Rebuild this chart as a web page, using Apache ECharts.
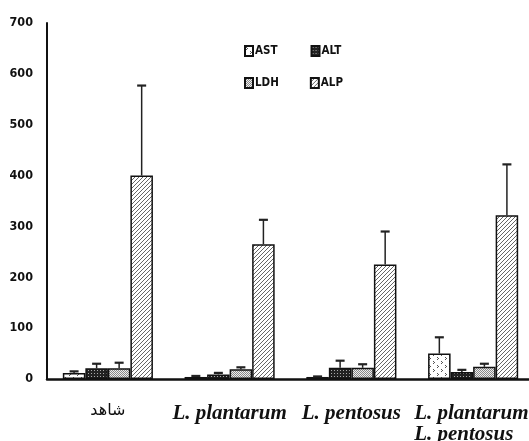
<!DOCTYPE html>
<html><head><meta charset="utf-8">
<script src="https://cdn.jsdelivr.net/npm/echarts@6/dist/echarts.min.js"></script>
<style>html,body{margin:0;padding:0;background:#fff}#c{width:529px;height:441px}</style>
</head><body><div id="c"></div>
<script>
const categories = ['شاهد', 'L. plantarum', 'L. pentosus', 'L. plantarum+\nL. pentosus'];
const seriesNames = ['AST', 'ALT', 'LDH', 'ALP'];
const AST = [12, 4, 4, 50];
const AST_err = [3, 2, 1, 32];
const ALT = [21, 9, 22, 14];
const ALT_err = [9, 3, 14, 4];
const LDH = [21, 19, 22, 24];
const LDH_err = [11, 4, 7, 6];
const ALP = [400, 265, 225, 322];
const ALP_err = [177, 48, 65, 100];
const yTicks = [0, 100, 200, 300, 400, 500, 600, 700];

function makePattern(kind) {
  const c = document.createElement('canvas');
  const ctx = c.getContext('2d');
  if (kind === 'AST') {
    c.width = 8; c.height = 8;
    ctx.fillStyle = '#fff'; ctx.fillRect(0, 0, 8, 8);
    ctx.fillStyle = '#555';
    ctx.fillRect(1, 1, 1, 1); ctx.fillRect(2, 2, 1, 1); ctx.fillRect(1, 3, 1, 1);
    ctx.fillRect(5, 5, 1, 1); ctx.fillRect(6, 6, 1, 1); ctx.fillRect(5, 7, 1, 1);
  } else if (kind === 'ALT') {
    c.width = 3; c.height = 3;
    ctx.fillStyle = '#222'; ctx.fillRect(0, 0, 3, 3);
    ctx.fillStyle = '#aaa'; ctx.fillRect(1, 1, 1, 1);
  } else if (kind === 'LDH') {
    c.width = 2; c.height = 2;
    ctx.fillStyle = '#eee'; ctx.fillRect(0, 0, 2, 2);
    ctx.fillStyle = '#888'; ctx.fillRect(0, 0, 1, 1); ctx.fillRect(1, 1, 1, 1);
  } else {
    c.width = 4; c.height = 4;
    ctx.fillStyle = '#fff'; ctx.fillRect(0, 0, 4, 4);
    ctx.strokeStyle = '#555'; ctx.lineWidth = 0.9;
    ctx.beginPath();
    ctx.moveTo(-1, 5); ctx.lineTo(5, -1);
    ctx.moveTo(-1, 1); ctx.lineTo(1, -1);
    ctx.moveTo(3, 5); ctx.lineTo(5, 3);
    ctx.stroke();
  }
  return { image: c, repeat: 'repeat' };
}

const values = [AST, ALT, LDH, ALP];
const errs = [AST_err, ALT_err, LDH_err, ALP_err];
const gapRatio = 0.26;

const chart = echarts.init(document.getElementById('c'));
const series = [];
seriesNames.forEach((n, i) => {
  series.push({
    name: n, type: 'bar', data: values[i],
    barGap: '0%', barCategoryGap: '26%',
    itemStyle: { color: makePattern(n), borderColor: '#111', borderWidth: 1.5 },
    z: 2
  });
});
seriesNames.forEach((n, i) => {
  series.push({
    type: 'custom', name: n + '_err', z: 3,
    data: values[i].map((v, k) => [k, v, v + errs[i][k]]),
    renderItem: function (params, api) {
      const k = api.value(0);
      const p0 = api.coord([k, api.value(1)]);
      const p1 = api.coord([k, api.value(2)]);
      const band = api.size([1, 0])[0];
      const bw = band * (1 - gapRatio) / 4;
      const x = p0[0] + (i - 1.5) * bw;
      return {
        type: 'group',
        children: [
          { type: 'line', shape: { x1: x, y1: p0[1], x2: x, y2: p1[1] }, style: { stroke: '#222', lineWidth: 1.5 } },
          { type: 'line', shape: { x1: x - 4.5, y1: p1[1], x2: x + 4.5, y2: p1[1] }, style: { stroke: '#222', lineWidth: 2.2 } }
        ]
      };
    }
  });
});

const legendText = { fontFamily: 'DejaVu Sans Condensed, DejaVu Sans', fontWeight: 'bold', fontSize: 11.5, color: '#111', padding: [0, 0, 0, -3] };
const itStyle = { fontFamily: 'Liberation Serif', fontStyle: 'italic', fontWeight: 'bold', fontSize: 21, color: '#111', lineHeight: 21 };
chart.setOption({
  animation: false,
  backgroundColor: '#fff',
  grid: { left: 47, right: -5, top: 23, bottom: 62, containLabel: false, outerBoundsMode: 'none' },
  legend: [
    { data: ['AST', 'ALT'], icon: 'rect', left: 239, top: 40, itemWidth: 8, itemHeight: 10, itemGap: 33, textStyle: legendText, selectedMode: false },
    { data: ['LDH', 'ALP'], icon: 'rect', left: 239, top: 72, itemWidth: 8, itemHeight: 10, itemGap: 31, textStyle: legendText, selectedMode: false }
  ],
  xAxis: {
    type: 'category', data: categories,
    axisLine: { lineStyle: { color: '#111', width: 2.5 } },
    axisTick: { show: false },
    axisLabel: {
      margin: 24, interval: 0, hideOverlap: false,
      formatter: function (v, idx) {
        if (idx === 0) return '{ar|' + v + '}';
        if (idx === 3) return v.split('\n').map(s => '{itl|' + s + '}').join('\n');
        return '{it|' + v + '}';
      },
      rich: {
        ar: { fontFamily: 'DejaVu Sans', fontSize: 16, fontWeight: 'normal', color: '#111' },
        it: itStyle,
        itl: Object.assign({}, itStyle, { width: 118, align: 'left' })
      }
    }
  },
  yAxis: {
    type: 'value', min: 0, max: 700, interval: 100,
    splitLine: { show: false },
    axisLine: { show: true, lineStyle: { color: '#111', width: 2 } },
    axisTick: { show: false },
    axisLabel: {
      margin: 14, color: '#111', fontSize: 12.5, fontWeight: 'bold',
      fontFamily: 'DejaVu Sans Condensed, DejaVu Sans',
      formatter: v => yTicks.includes(v) ? String(v) : ''
    }
  },
  series: series
});
</script></body></html>
